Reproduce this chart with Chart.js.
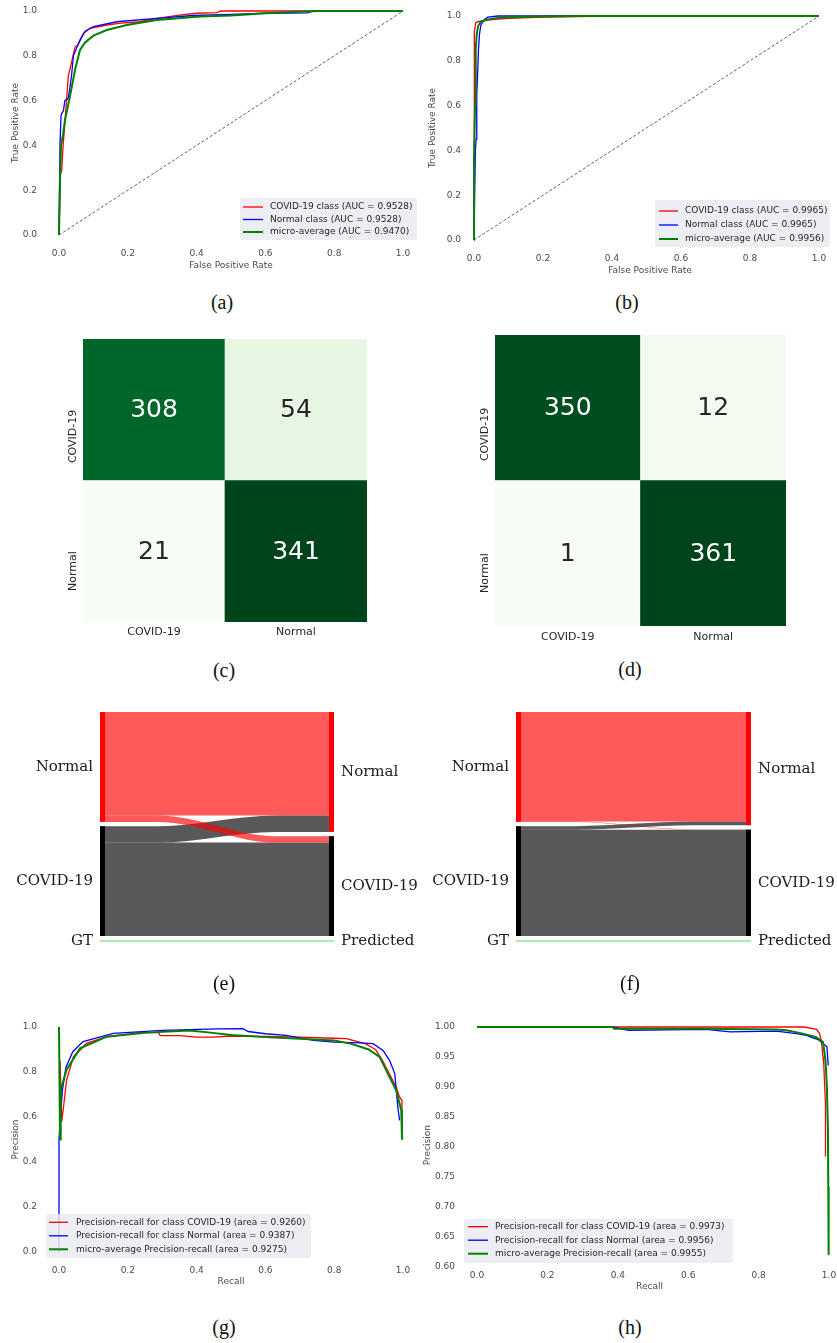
<!DOCTYPE html>
<html>
<head>
<meta charset="utf-8">
<script src="https://cdn.jsdelivr.net/npm/chart.js@4.4.1/dist/chart.umd.min.js"></script>
<style>
  body { margin: 0; background: #fff; }
  #page { position: relative; width: 837px; height: 1343px; overflow: hidden; }
  canvas { position: absolute; }
  .cap { position: absolute; width: 60px; text-align: center; font: 20px "Liberation Serif", serif; color: #111; line-height: 24px; }
</style>
</head>
<body>
<div id="page">
  <canvas id="rocA" width="420" height="285" style="left:0;top:0"></canvas>
  <canvas id="rocB" width="417" height="285" style="left:420px;top:0"></canvas>
  <canvas id="cmC" width="420" height="330" style="left:0;top:320px"></canvas>
  <canvas id="cmD" width="417" height="330" style="left:420px;top:320px"></canvas>
  <canvas id="flowE" width="420" height="265" style="left:0;top:695px"></canvas>
  <canvas id="flowF" width="417" height="265" style="left:420px;top:695px"></canvas>
  <canvas id="prG" width="420" height="310" style="left:0;top:985px"></canvas>
  <canvas id="prH" width="417" height="310" style="left:420px;top:985px"></canvas>

  <div class="cap" style="left:192px;top:290px">(a)</div>
  <div class="cap" style="left:597px;top:290px">(b)</div>
  <div class="cap" style="left:194px;top:658px">(c)</div>
  <div class="cap" style="left:600px;top:657px">(d)</div>
  <div class="cap" style="left:194px;top:971px">(e)</div>
  <div class="cap" style="left:600px;top:971px">(f)</div>
  <div class="cap" style="left:194px;top:1315px">(g)</div>
  <div class="cap" style="left:600px;top:1315px">(h)</div>
</div>

<script>
// ---- data -------------------------------------------------------------

const classNames = ["COVID-19", "Normal"];
const unitTicks = [0, 0.2, 0.4, 0.6, 0.8, 1.0];
const precTicksH = [0.60, 0.65, 0.70, 0.75, 0.80, 0.85, 0.90, 0.95, 1.00];
const chanceLine = [0, 1];

// (a) ROC
const rocA_covid_fpr = [0, 0.004, 0.008, 0.012, 0.017, 0.022, 0.027, 0.035, 0.042, 0.047, 0.056, 0.071, 0.09, 0.139, 0.18, 0.235, 0.28, 0.35, 0.40, 0.46, 0.47, 1.0];
const rocA_covid_tpr = [0, 0.27, 0.29, 0.40, 0.50, 0.60, 0.71, 0.76, 0.81, 0.84, 0.85, 0.90, 0.923, 0.9375, 0.946, 0.952, 0.966, 0.982, 0.99, 0.993, 1.0, 1.0];
const rocA_normal_fpr = [0, 0.003, 0.006, 0.013, 0.017, 0.027, 0.032, 0.037, 0.042, 0.061, 0.076, 0.10, 0.168, 0.284, 0.39, 0.5, 0.6, 0.72, 0.74, 1.0];
const rocA_normal_tpr = [0, 0.41, 0.535, 0.557, 0.60, 0.61, 0.66, 0.72, 0.80, 0.87, 0.91, 0.93, 0.952, 0.967, 0.98, 0.985, 0.99, 0.992, 1.0, 1.0];
const rocA_micro_fpr = [0, 0.003, 0.006, 0.012, 0.017, 0.032, 0.047, 0.061, 0.076, 0.10, 0.139, 0.197, 0.284, 0.41, 0.5, 0.6, 0.75, 1.0];
const rocA_micro_tpr = [0, 0.25, 0.40, 0.45, 0.51, 0.62, 0.74, 0.826, 0.86, 0.89, 0.915, 0.9375, 0.96, 0.975, 0.98, 0.99, 1.0, 1.0];
const rocA_labels = ["COVID-19 class (AUC = 0.9528)", "Normal class (AUC = 0.9528)", "micro-average (AUC = 0.9470)"];

// (b) ROC
const rocB_covid_fpr = [0, 0.0, 0.002, 0.005, 0.012, 0.03, 0.06, 0.1, 0.2, 0.35, 0.57, 0.58, 1.0];
const rocB_covid_tpr = [0, 0.85, 0.93, 0.97, 0.975, 0.98, 0.985, 0.99, 0.995, 0.998, 0.999, 1.0, 1.0];
const rocB_normal_fpr = [0, 0.004, 0.006, 0.008, 0.01, 0.013, 0.016, 0.02, 0.03, 0.04, 0.07, 1.0];
const rocB_normal_tpr = [0, 0.40, 0.45, 0.65, 0.72, 0.85, 0.92, 0.96, 0.985, 0.995, 1.0, 1.0];
const rocB_micro_fpr = [0, 0.0, 0.003, 0.005, 0.008, 0.012, 0.02, 0.04, 0.08, 0.15, 0.3, 1.0];
const rocB_micro_tpr = [0, 0.35, 0.6, 0.85, 0.92, 0.955, 0.975, 0.985, 0.993, 0.997, 1.0, 1.0];
const rocB_labels = ["COVID-19 class (AUC = 0.9965)", "Normal class (AUC = 0.9965)", "micro-average (AUC = 0.9956)"];

// (c), (d) confusion matrices: rows = true class, cols = predicted class
const cmValuesC = [[308, 54], [21, 341]];
const cmValuesD = [[350, 12], [1, 361]];

// (g) precision-recall
const prG_covid_rec = [0.003, 0.008, 0.012, 0.022, 0.042, 0.08, 0.139, 0.235, 0.29, 0.294, 0.35, 0.40, 0.45, 0.5, 0.6, 0.7, 0.8, 0.835, 0.89, 0.92, 0.94, 0.96, 0.98, 0.99, 0.997, 0.997];
const prG_covid_prec = [0.85, 0.58, 0.63, 0.764, 0.868, 0.927, 0.957, 0.975, 0.975, 0.962, 0.962, 0.955, 0.955, 0.96, 0.958, 0.955, 0.95, 0.948, 0.926, 0.90, 0.852, 0.793, 0.733, 0.689, 0.674, 0.63];
const prG_normal_rec = [0, 0, 0.004, 0.01, 0.02, 0.04, 0.07, 0.158, 0.30, 0.46, 0.535, 0.55, 0.60, 0.66, 0.74, 0.80, 0.875, 0.913, 0.942, 0.961, 0.976, 0.985, 0.99];
const prG_normal_prec = [0, 0.5, 0.6, 0.72, 0.82, 0.89, 0.935, 0.972, 0.985, 0.992, 0.993, 0.98, 0.97, 0.963, 0.941, 0.933, 0.929, 0.926, 0.896, 0.852, 0.793, 0.644, 0.585];
const prG_micro_rec = [0, 0.003, 0.005, 0.022, 0.061, 0.139, 0.255, 0.38, 0.44, 0.5, 0.6, 0.7, 0.8, 0.85, 0.9, 0.932, 0.956, 0.98, 0.995, 0.997, 1.0];
const prG_micro_prec = [1.0, 0.5, 0.72, 0.81, 0.905, 0.957, 0.975, 0.984, 0.975, 0.964, 0.955, 0.948, 0.94, 0.925, 0.90, 0.867, 0.793, 0.719, 0.63, 0.504, 0.5];
const prG_labels = ["Precision-recall for class COVID-19 (area = 0.9260)", "Precision-recall for class Normal (area = 0.9387)", "micro-average Precision-recall (area = 0.9275)"];

// (h) precision-recall
const prH_covid_rec = [0, 0.43, 0.93, 0.965, 0.973, 0.978, 0.983, 0.985, 0.99, 0.99];
const prH_covid_prec = [1.0, 1.0, 1.0, 0.996, 0.989, 0.978, 0.95, 0.939, 0.873, 0.784];
const prH_normal_rec = [0, 0.385, 0.43, 0.65, 0.72, 0.85, 0.907, 0.936, 0.955, 0.969, 0.978, 0.988, 0.994, 0.998];
const prH_normal_prec = [1.0, 1.0, 0.9945, 0.996, 0.992, 0.993, 0.989, 0.986, 0.982, 0.979, 0.975, 0.97, 0.967, 0.936];
const prH_micro_rec = [0, 0.385, 0.39, 0.65, 0.85, 0.879, 0.926, 0.964, 0.983, 0.99, 0.994, 0.997, 0.998, 0.999];
const prH_micro_prec = [1.0, 1.0, 0.997, 0.997, 0.996, 0.9945, 0.989, 0.983, 0.975, 0.945, 0.90, 0.828, 0.734, 0.62];
const prH_labels = ["Precision-recall for class COVID-19 (area = 0.9973)", "Precision-recall for class Normal (area = 0.9956)", "micro-average Precision-recall (area = 0.9955)"];

// ---- styling ----------------------------------------------------------

Chart.defaults.font.family = "'DejaVu Sans', sans-serif";
Chart.defaults.animation = false;

const RED = "#ff0000", BLUE = "#0000ff", GREEN = "#008000";
const GREY_TEXT = "#4a4a4a";
const GREENS = ["#f7fcf5", "#e5f5e0", "#c7e9c0", "#a1d99b", "#74c476", "#41ab5d", "#238b45", "#006d2c", "#00441b"];
const NO_GRID = { display: false, drawTicks: false };

function greens(t) {
  const stops = GREENS.map(h => [1, 3, 5].map(k => parseInt(h.slice(k, k + 2), 16)));
  const p = Math.max(0, Math.min(1, t)) * (stops.length - 1);
  const i = Math.min(Math.floor(p), stops.length - 2);
  const f = p - i;
  const c = stops[i].map((a, k) => Math.round(a + (stops[i + 1][k] - a) * f));
  return "rgb(" + c.join(",") + ")";
}

function pts(xs, ys) {
  return xs.map((x, i) => ({ x: x, y: ys[i] }));
}

// legend box drawn inside the plot, seaborn style
const boxLegend = {
  id: "boxLegend",
  afterDraw(chart, args, o) {
    if (!o || !o.box) return;
    const ctx = chart.ctx;
    const [x0, y0, x1, y1] = o.box;
    ctx.save();
    ctx.fillStyle = "rgba(234,234,242,0.85)";
    ctx.beginPath();
    ctx.roundRect(x0, y0, x1 - x0, y1 - y0, 2);
    ctx.fill();
    ctx.font = o.size + "px 'DejaVu Sans'";
    ctx.textBaseline = "middle";
    ctx.textAlign = "left";
    const items = chart.data.datasets.filter(d => d.label);
    items.forEach((d, i) => {
      const y = o.rowY + i * o.step;
      ctx.strokeStyle = d.borderColor;
      ctx.lineWidth = d.borderWidth;
      ctx.beginPath();
      ctx.moveTo(o.hx0, y);
      ctx.lineTo(o.hx1, y);
      ctx.stroke();
      ctx.fillStyle = "#262626";
      ctx.fillText(d.label, o.textX, y);
    });
    ctx.restore();
  }
};

// numbers in the matrix cells + rotated row labels
const cellText = {
  id: "cellText",
  afterDatasetsDraw(chart, args, o) {
    if (!o || !o.labelX) return;
    const ctx = chart.ctx;
    ctx.save();
    chart.data.datasets.forEach((ds, i) => {
      const meta = chart.getDatasetMeta(i);
      meta.data.forEach((bar, j) => {
        const cy = (bar.y + bar.base) / 2;
        ctx.font = "25px 'DejaVu Sans'";
        ctx.textAlign = "center";
        ctx.textBaseline = "middle";
        ctx.fillStyle = ds.textColors[j];
        ctx.fillText(String(ds.values[j]), bar.x, cy + 1);
        if (j === 0) {
          ctx.save();
          ctx.translate(o.labelX, cy);
          ctx.rotate(-Math.PI / 2);
          ctx.font = "11px 'DejaVu Sans'";
          ctx.textAlign = "right";
          ctx.fillStyle = "#262626";
          ctx.fillText(ds.label, 0, 0);
          ctx.restore();
        }
      });
    });
    ctx.restore();
  }
};

// node names beside the sankey bars
const flowLabels = {
  id: "flowLabels",
  afterDraw(chart, args, o) {
    if (!o || !o.left) return;
    const ctx = chart.ctx, y = chart.scales.y, a = chart.chartArea;
    ctx.save();
    ctx.font = "15px 'DejaVu Serif'";
    ctx.fillStyle = "#1a1a1a";
    ctx.textBaseline = "middle";
    ctx.textAlign = "right";
    o.left.forEach(l => ctx.fillText(l.text, a.left - 7, y.getPixelForValue(l.y)));
    ctx.textAlign = "left";
    o.right.forEach(l => ctx.fillText(l.text, a.right + 7, y.getPixelForValue(l.y)));
    ctx.restore();
  }
};

Chart.register(boxLegend, cellText, flowLabels);

// ---- curve charts (ROC / PR) -------------------------------------------

function curveChart(id, f, datasets, legend) {
  const kx = f.px1 - f.px0;
  const left = f.px0 + f.xMin * kx;
  const right = f.px0 + f.xMax * kx;
  const ky = (f.pyLo - f.pyHi) / (f.vHi - f.vLo);
  const bottom = f.pyLo + (f.vLo - f.yMin) * ky;
  const top = f.pyLo - (f.yMax - f.vLo) * ky;
  const half = f.font * 0.6;
  new Chart(document.getElementById(id), {
    type: "scatter",
    data: { datasets: datasets },
    options: {
      responsive: false,
      animation: false,
      devicePixelRatio: 1,
      layout: { autoPadding: false, padding: { left: 0, right: f.w - right, top: top, bottom: 0 } },
      elements: { point: { radius: 0 } },
      plugins: { legend: { display: false }, tooltip: { enabled: false }, boxLegend: legend },
      scales: {
        x: {
          type: "linear", min: f.xMin, max: f.xMax,
          grid: NO_GRID, border: { display: false },
          afterBuildTicks: s => { s.ticks = f.xTicks.map(v => ({ value: v })); },
          afterFit: s => { s.height = f.h - bottom; s.paddingLeft = 0; s.paddingRight = 0; },
          ticks: {
            padding: f.xTickMid - half - bottom, color: GREY_TEXT, font: { size: f.font },
            autoSkip: false, maxRotation: 0, callback: v => v.toFixed(1)
          },
          title: {
            display: true, text: f.xTitle, color: GREY_TEXT, font: { size: f.font },
            padding: { top: 0, bottom: f.h - f.xTitleMid - half }
          }
        },
        y: {
          type: "linear", min: f.yMin, max: f.yMax,
          grid: NO_GRID, border: { display: false },
          afterBuildTicks: s => { s.ticks = f.yTicks.map(v => ({ value: v })); },
          afterFit: s => { s.width = left; s.paddingTop = 0; s.paddingBottom = 0; },
          ticks: {
            padding: left - f.yTickRight, color: GREY_TEXT, font: { size: f.font },
            autoSkip: false, callback: v => v.toFixed(f.yDigits)
          },
          title: {
            display: true, text: f.yTitle, color: GREY_TEXT, font: { size: f.font },
            padding: { top: f.yTitleMid - half, bottom: 0 }
          }
        }
      }
    }
  });
}

function curve(label, xs, ys, color, width, order) {
  return { label: label, data: pts(xs, ys), showLine: true, borderColor: color, borderWidth: width, pointRadius: 0, order: order };
}

function chance() {
  return { data: pts(chanceLine, chanceLine), showLine: true, borderColor: "#3a3a3a", borderWidth: 0.8, borderDash: [3, 2], pointRadius: 0, order: 4 };
}

curveChart("rocA",
  { w: 420, h: 285, px0: 59, px1: 403, xMin: -0.04, xMax: 1.04, vLo: 0, vHi: 1, pyLo: 235, pyHi: 11, yMin: -0.04, yMax: 1.04,
    yTickRight: 37, xTickMid: 254, xTitleMid: 266, yTitleMid: 16, font: 9, yDigits: 1,
    xTicks: unitTicks, yTicks: unitTicks, xTitle: "False Positive Rate", yTitle: "True Positive Rate" },
  [
    curve(rocA_labels[0], rocA_covid_fpr, rocA_covid_tpr, RED, 1.3, 2),
    curve(rocA_labels[1], rocA_normal_fpr, rocA_normal_tpr, BLUE, 1.3, 1),
    curve(rocA_labels[2], rocA_micro_fpr, rocA_micro_tpr, GREEN, 2, 0),
    chance()
  ],
  { box: [240, 198, 417, 240], rowY: 207, step: 12.5, hx0: 243, hx1: 263, textX: 270, size: 9 });

curveChart("rocB",
  { w: 417, h: 285, px0: 54, px1: 399, xMin: -0.02, xMax: 1.04, vLo: 0, vHi: 1, pyLo: 240, pyHi: 16, yMin: -0.04, yMax: 1.04,
    yTickRight: 41, xTickMid: 259, xTitleMid: 271, yTitleMid: 13, font: 9, yDigits: 1,
    xTicks: unitTicks, yTicks: unitTicks, xTitle: "False Positive Rate", yTitle: "True Positive Rate" },
  [
    curve(rocB_labels[0], rocB_covid_fpr, rocB_covid_tpr, RED, 1.3, 2),
    curve(rocB_labels[1], rocB_normal_fpr, rocB_normal_tpr, BLUE, 1.3, 1),
    curve(rocB_labels[2], rocB_micro_fpr, rocB_micro_tpr, GREEN, 2, 0),
    chance()
  ],
  { box: [235, 200, 410, 247], rowY: 211, step: 14, hx0: 239, hx1: 258, textX: 265, size: 9 });

curveChart("prG",
  { w: 420, h: 310, px0: 59, px1: 403, xMin: -0.04, xMax: 1.04, vLo: 0, vHi: 1, pyLo: 267, pyHi: 42, yMin: -0.04, yMax: 1.04,
    yTickRight: 37, xTickMid: 286, xTitleMid: 297, yTitleMid: 16, font: 9, yDigits: 1,
    xTicks: unitTicks, yTicks: unitTicks, xTitle: "Recall", yTitle: "Precision" },
  [
    curve(prG_labels[0], prG_covid_rec, prG_covid_prec, RED, 1.3, 2),
    curve(prG_labels[1], prG_normal_rec, prG_normal_prec, BLUE, 1.3, 1),
    curve(prG_labels[2], prG_micro_rec, prG_micro_prec, GREEN, 2, 0)
  ],
  { box: [46, 229, 311, 273], rowY: 237.3, step: 13.5, hx0: 49, hx1: 68, textX: 76, size: 9 });

curveChart("prH",
  { w: 417, h: 310, px0: 57, px1: 409, xMin: -0.04, xMax: 1.02, vLo: 0.60, vHi: 1.00, pyLo: 282, pyHi: 42, yMin: 0.596, yMax: 1.01,
    yTickRight: 35, xTickMid: 291, xTitleMid: 302, yTitleMid: 8, font: 9, yDigits: 2,
    xTicks: unitTicks, yTicks: precTicksH, xTitle: "Recall", yTitle: "Precision" },
  [
    curve(prH_labels[0], prH_covid_rec, prH_covid_prec, RED, 1.3, 2),
    curve(prH_labels[1], prH_normal_rec, prH_normal_prec, BLUE, 1.3, 1),
    curve(prH_labels[2], prH_micro_rec, prH_micro_prec, GREEN, 2, 0)
  ],
  { box: [44, 234, 313, 278], rowY: 241.7, step: 13.5, hx0: 48, hx1: 68, textX: 75, size: 9 });

// ---- confusion matrices -----------------------------------------------

function matrixChart(id, cm, g) {
  const all = cm.flat();
  const lo = Math.min(...all), hi = Math.max(...all);
  const datasets = cm.map((row, r) => ({
    label: classNames[r],
    data: row.map(() => 1),
    values: row,
    backgroundColor: row.map(v => greens((v - lo) / (hi - lo))),
    textColors: row.map(v => ((v - lo) / (hi - lo) > 0.5 ? "#ffffff" : "#262626")),
    barPercentage: 1, categoryPercentage: 1, borderWidth: 0
  })).reverse();
  new Chart(document.getElementById(id), {
    type: "bar",
    data: { labels: classNames, datasets: datasets },
    options: {
      responsive: false, animation: false, devicePixelRatio: 1,
      layout: { autoPadding: false, padding: { left: g.left, right: g.w - g.right, top: g.top, bottom: 0 } },
      plugins: { legend: { display: false }, tooltip: { enabled: false }, cellText: { labelX: g.labelX } },
      scales: {
        x: {
          stacked: true, grid: NO_GRID, border: { display: false },
          afterFit: s => { s.height = g.h - g.bottom; s.paddingLeft = 0; s.paddingRight = 0; },
          ticks: { padding: g.tickMid - 6.6 - g.bottom, color: "#262626", font: { size: 11 }, maxRotation: 0 }
        },
        y: { stacked: true, min: 0, max: cm.length, display: false }
      }
    }
  });
}

matrixChart("cmC", cmValuesC, { w: 420, h: 330, left: 83, right: 367, top: 19, bottom: 302, tickMid: 312, labelX: 73 });
matrixChart("cmD", cmValuesD, { w: 417, h: 330, left: 75, right: 366, top: 15, bottom: 306, tickMid: 317, labelX: 65 });

// ---- sankey (GT -> Predicted) -------------------------------------------

const FLOW_RGBA = ["rgba(0,0,0,0.65)", "rgba(255,0,0,0.65)"];   // by true class
const NODE_COLOR = ["#000000", "#ff0000"];
const NODE_GAP = 14;
const GT_LEVEL = -16;

function sankeyChart(id, cm, g) {
  const barW = 5 / (g.right - g.left);
  const xs = [barW, 0.25, 0.75, 1 - barW];
  const nC = cm[0][0] + cm[0][1], nN = cm[1][0] + cm[1][1];
  const pC = cm[0][0] + cm[1][0], pN = cm[0][1] + cm[1][1];
  const L = nC + NODE_GAP, R = pC + NODE_GAP;
  // [true, pred, leftLo, rightLo] for each flow
  const flows = [
    [0, 0, 0, 0],
    [0, 1, cm[0][0], R],
    [1, 0, L, cm[0][0]],
    [1, 1, L + cm[1][0], R + cm[0][1]]
  ];
  const datasets = [];
  flows.forEach(([t, p, l0, r0]) => {
    const n = cm[t][p];
    const edge = (a, b) => [{ x: xs[0], y: a }, { x: xs[1], y: a }, { x: xs[2], y: b }, { x: xs[3], y: b }];
    const common = { showLine: true, pointRadius: 0, borderColor: "rgba(0,0,0,0)", borderWidth: 1, cubicInterpolationMode: "monotone", order: t === 1 ? 1 : 2 };
    datasets.push(Object.assign({ data: edge(l0, r0), fill: false }, common));
    datasets.push(Object.assign({ data: edge(l0 + n, r0 + n), fill: "-1", backgroundColor: FLOW_RGBA[t] }, common));
  });
  const bar = (x, lo, hi, c) => ({ data: [{ x: x, y: lo }, { x: x, y: hi }], showLine: true, pointRadius: 0, borderColor: NODE_COLOR[c], borderWidth: 5, order: 0 });
  datasets.push(bar(barW / 2, 0, nC, 0), bar(barW / 2, L, L + nN, 1));
  datasets.push(bar(1 - barW / 2, 0, pC, 0), bar(1 - barW / 2, R, R + pN, 1));
  datasets.push({ data: [{ x: 0, y: GT_LEVEL }, { x: 1, y: GT_LEVEL }], showLine: true, pointRadius: 0, borderColor: "#8de88d", borderWidth: 1.5, order: 0 });

  new Chart(document.getElementById(id), {
    type: "scatter",
    data: { datasets: datasets },
    options: {
      responsive: false, animation: false, devicePixelRatio: 1,
      layout: { autoPadding: false, padding: { left: g.left, right: g.w - g.right, top: g.top, bottom: g.bottom } },
      plugins: {
        legend: { display: false }, tooltip: { enabled: false },
        flowLabels: {
          left: [
            { text: classNames[1], y: L + nN / 2 },
            { text: classNames[0], y: nC / 2 },
            { text: "GT", y: GT_LEVEL }
          ],
          right: [
            { text: classNames[1], y: R + pN / 2 },
            { text: classNames[0], y: pC / 2 },
            { text: "Predicted", y: GT_LEVEL }
          ]
        }
      },
      scales: {
        x: { type: "linear", min: 0, max: 1, display: false },
        y: { type: "linear", min: -20, max: Math.max(L + nN, R + pN), display: false }
      }
    }
  });
}

sankeyChart("flowE", cmValuesC, { w: 420, left: 100, right: 334, top: 17, bottom: 17.9 });
sankeyChart("flowF", cmValuesD, { w: 417, left: 96, right: 331, top: 17, bottom: 17.9 });
</script>
</body>
</html>
